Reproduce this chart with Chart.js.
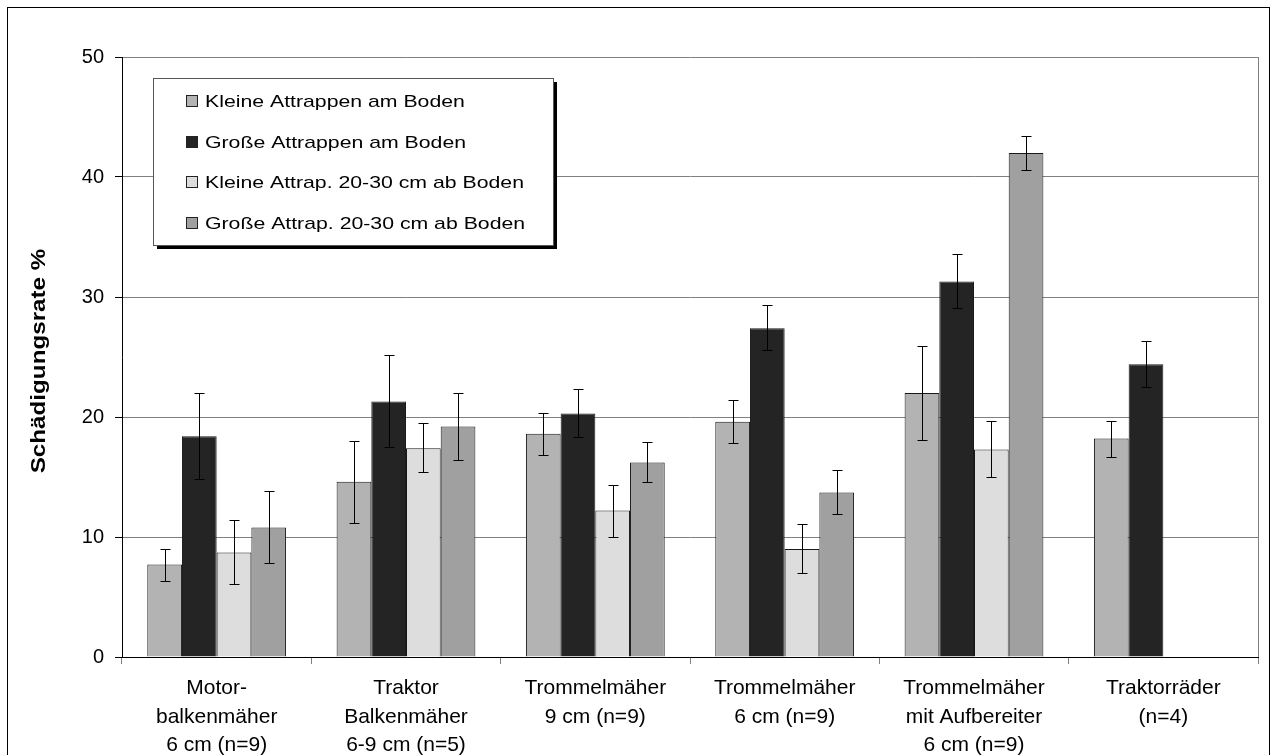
<!DOCTYPE html>
<html>
<head>
<meta charset="utf-8">
<script src="https://cdn.jsdelivr.net/npm/chart.js@4.4.1/dist/chart.umd.min.js"></script>
<style>
  html, body { margin: 0; padding: 0; background: #fff; }
  canvas { display: block; }
</style>
</head>
<body>
<canvas id="c" width="1278" height="755"></canvas>
<script>
// Schädigungsrate je Mähgerät, vier Attrappen-Typen, mit Fehlerbalken

const categories = [
  ['Motor-', 'balkenmäher', '6 cm (n=9)'],
  ['Traktor', 'Balkenmäher', '6-9 cm (n=5)'],
  ['Trommelmäher', '9 cm (n=9)'],
  ['Trommelmäher', '6 cm (n=9)'],
  ['Trommelmäher', 'mit Aufbereiter', '6 cm (n=9)'],
  ['Traktorräder', '(n=4)'],
];
const seriesNames = [
  'Kleine Attrappen am Boden',
  'Große Attrappen am Boden',
  'Kleine Attrap. 20-30 cm ab Boden',
  'Große Attrap. 20-30 cm ab Boden',
];
const seriesColors = ['#b3b3b3', '#242424', '#dddddd', '#a0a0a0'];

const kleinBoden   = [7.7, 14.6, 18.6, 19.6, 22.0, 18.2];
const grossBoden   = [18.4, 21.3, 20.3, 27.4, 31.3, 24.4];
const kleinHoch    = [8.7, 17.4, 12.2, 9.0, 17.3, null];
const grossHoch    = [10.8, 19.2, 16.2, 13.7, 42.0, null];

const kleinBodenLo = [6.3, 11.2, 16.8, 17.8, 18.1, 16.7];
const kleinBodenHi = [9.0, 18.0, 20.3, 21.4, 25.9, 19.7];
const grossBodenLo = [14.8, 17.5, 18.3, 25.6, 29.1, 22.5];
const grossBodenHi = [22.0, 25.2, 22.3, 29.3, 33.6, 26.3];
const kleinHochLo  = [6.1, 15.4, 10.0, 7.0, 15.0, null];
const kleinHochHi  = [11.4, 19.5, 14.3, 11.1, 19.7, null];
const grossHochLo  = [7.8, 16.4, 14.6, 11.9, 40.6, null];
const grossHochHi  = [13.8, 22.0, 17.9, 15.6, 43.4, null];

const yTicks = [0, 10, 20, 30, 40, 50];

const values = [kleinBoden, grossBoden, kleinHoch, grossHoch];
const lows = [kleinBodenLo, grossBodenLo, kleinHochLo, grossHochLo];
const highs = [kleinBodenHi, grossBodenHi, kleinHochHi, grossHochHi];

const FONT = 'Liberation Sans, Arial, sans-serif';

const frame = {
  id: 'frame',
  beforeDraw(chart) {
    const ctx = chart.ctx;
    ctx.save();
    ctx.fillStyle = '#fff';
    ctx.fillRect(0, 0, chart.width, chart.height);
    ctx.strokeStyle = '#000';
    ctx.lineWidth = 1;
    ctx.strokeRect(7.5, 7.5, 1262, 760);
    ctx.restore();
  },
  afterDraw(chart) {
    const ctx = chart.ctx;
    const a = chart.chartArea;
    ctx.save();
    // right border of plot area
    ctx.strokeStyle = '#808080';
    ctx.beginPath();
    ctx.moveTo(Math.round(a.right) + 0.5, a.top);
    ctx.lineTo(Math.round(a.right) + 0.5, a.bottom);
    ctx.stroke();
    // y axis title (the original text is drawn a bit stretched)
    ctx.fillStyle = '#000';
    ctx.font = 'bold 20px ' + FONT;
    ctx.textAlign = 'center';
    ctx.textBaseline = 'middle';
    ctx.translate(39, 361);
    ctx.rotate(-Math.PI / 2);
    ctx.scale(1.21, 1);
    ctx.fillText('Schädigungsrate %', 0, 0);
    ctx.restore();
  }
};

const errorBars = {
  id: 'errorBars',
  afterDatasetsDraw(chart) {
    const ctx = chart.ctx;
    const y = chart.scales.y;
    ctx.save();
    ctx.strokeStyle = '#000';
    ctx.lineWidth = 1;
    chart.data.datasets.forEach((ds, di) => {
      const meta = chart.getDatasetMeta(di);
      meta.data.forEach((bar, i) => {
        const lo = lows[di][i], hi = highs[di][i];
        if (lo == null || hi == null) return;
        const x = Math.round(bar.x) + 0.5;
        const yl = Math.round(y.getPixelForValue(lo)) + 0.5;
        const yh = Math.round(y.getPixelForValue(hi)) + 0.5;
        ctx.beginPath();
        ctx.moveTo(x, yl); ctx.lineTo(x, yh);
        ctx.moveTo(x - 5, yl); ctx.lineTo(x + 5, yl);
        ctx.moveTo(x - 5, yh); ctx.lineTo(x + 5, yh);
        ctx.stroke();
      });
    });
    ctx.restore();
  }
};

const boxLegend = {
  id: 'boxLegend',
  afterDraw(chart) {
    const ctx = chart.ctx;
    const bx = 153, by = 78, bw = 400, bh = 167;
    ctx.save();
    ctx.fillStyle = '#000';
    ctx.fillRect(bx + 4, by + 4, bw, bh);
    ctx.fillStyle = '#fff';
    ctx.fillRect(bx, by, bw, bh);
    ctx.strokeStyle = '#555';
    ctx.lineWidth = 1;
    ctx.strokeRect(bx + 0.5, by + 0.5, bw, bh);
    const rows = [101, 142, 182, 223];
    chart.data.datasets.forEach((ds, i) => {
      const cy = rows[i];
      ctx.fillStyle = ds.backgroundColor;
      ctx.fillRect(186, cy - 6, 12, 12);
      ctx.strokeStyle = '#222';
      ctx.strokeRect(186.5, cy - 5.5, 11, 11);
      ctx.save();
      ctx.fillStyle = '#000';
      ctx.font = '17px ' + FONT;
      ctx.textBaseline = 'middle';
      ctx.textAlign = 'left';
      ctx.translate(205, cy + 1);
      ctx.scale(1.25, 1);
      ctx.fillText(ds.label, 0, 0);
      ctx.restore();
    });
    ctx.restore();
  }
};

new Chart(document.getElementById('c'), {
  type: 'bar',
  data: {
    labels: categories,
    datasets: values.map((v, i) => ({
      label: seriesNames[i],
      data: v,
      backgroundColor: seriesColors[i],
      borderColor: '#1a1a1a',
      borderWidth: 1,
      borderSkipped: 'bottom',
      categoryPercentage: 0.733,
      barPercentage: 1.0,
    })),
  },
  options: {
    responsive: false,
    animation: false,
    devicePixelRatio: 1,
    layout: { padding: { left: 0, top: 57, right: 20, bottom: 0 } },
    plugins: { legend: { display: false }, tooltip: { enabled: false } },
    scales: {
      x: {
        grid: { display: true, drawOnChartArea: false, offset: true, tickLength: 7, color: '#808080' },
        border: { color: '#000', width: 1 },
        ticks: { color: '#000', font: { family: FONT, size: 21, lineHeight: 1.36 }, padding: 10, maxRotation: 0, autoSkip: false },
        afterFit(s) { s.height = 98; },
      },
      y: {
        min: 0, max: 50,
        afterBuildTicks(s) { s.ticks = yTicks.map(v => ({ value: v })); },
        grid: { color: '#808080', tickLength: 7, tickColor: '#000' },
        border: { color: '#000', width: 1 },
        ticks: { color: '#000', font: { family: FONT, size: 20 }, padding: 11 },
        afterFit(s) { s.width = 122; },
      },
    },
  },
  plugins: [frame, errorBars, boxLegend],
});
</script>
</body>
</html>
